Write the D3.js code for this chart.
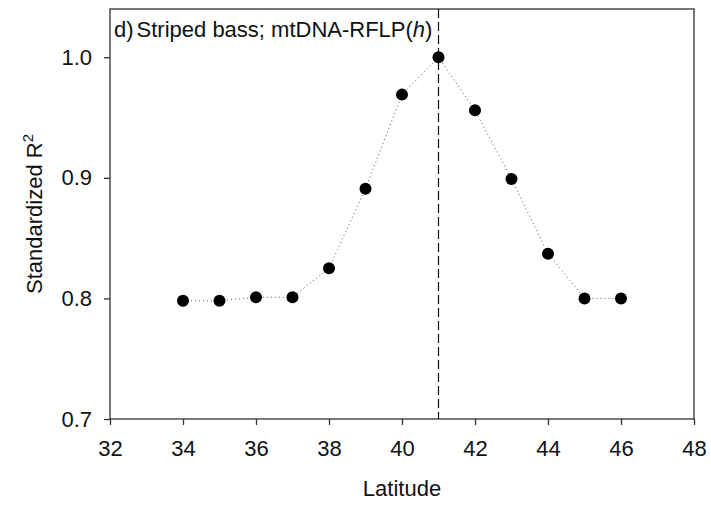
<!DOCTYPE html>
<html>
<head>
<meta charset="utf-8">
<script src="https://cdn.jsdelivr.net/npm/d3@7"></script>
<style>
  body { margin: 0; background: #fff; }
  text { font-family: "Liberation Sans", Arial, sans-serif; fill: #111; }
</style>
</head>
<body>
<div id="chart"></div>
<script>
// data
var latitude = [34, 35, 36, 37, 38, 39, 40, 41, 42, 43, 44, 45, 46];
var r2 = [0.798, 0.798, 0.801, 0.801, 0.825, 0.891, 0.969, 1.0, 0.956, 0.899, 0.837, 0.800, 0.800];
var xTicks = [32, 34, 36, 38, 40, 42, 44, 46, 48];
var yTicks = [0.7, 0.8, 0.9, 1.0];
var peakLat = 41;

var margin = {top: 9, right: 17, bottom: 86, left: 110};
var width = 711 - margin.left - margin.right;
var height = 505 - margin.top - margin.bottom;
var fontSize = '22px';

var svg = d3.select('#chart')
  .append('svg')
    .attr('width', 711)
    .attr('height', 505);

var chart = svg.append('g')
  .attr('transform', 'translate(' + margin.left + ',' + margin.top + ')');

var x = d3.scaleLinear().domain([32, 48]).range([0, width]);
var y = d3.scaleLinear().domain([0.7, 1.04]).range([height, 0]);

// frame
chart.append('rect')
  .attr('width', width)
  .attr('height', height)
  .attr('fill', 'none')
  .attr('stroke', '#333')
  .attr('stroke-width', 1.3);

// axes
var xAxis = chart.append('g')
  .attr('transform', 'translate(0,' + height + ')')
  .call(d3.axisBottom(x).tickValues(xTicks).tickSize(6).tickPadding(15).tickFormat(d3.format('d')));

var yAxis = chart.append('g')
  .call(d3.axisLeft(y).tickValues(yTicks).tickSize(6).tickPadding(12).tickFormat(d3.format('.1f')));

[xAxis, yAxis].forEach(function(a) {
  a.select('.domain').remove();
  a.selectAll('line').attr('stroke', '#333').attr('stroke-width', 1.3);
  a.selectAll('text').style('font-size', fontSize).style('font-family', '"Liberation Sans", Arial, sans-serif').attr('fill', '#111');
});

// dashed line at peak
chart.append('line')
  .attr('x1', x(peakLat)).attr('x2', x(peakLat))
  .attr('y1', 0).attr('y2', height)
  .attr('stroke', '#111')
  .attr('stroke-width', 1.2)
  .attr('stroke-dasharray', '9,4');

// dotted connecting line
var line = d3.line()
  .x(function(d, i) { return x(latitude[i]); })
  .y(function(d) { return y(d); });

chart.append('path')
  .datum(r2)
  .attr('d', line)
  .attr('fill', 'none')
  .attr('stroke', '#555')
  .attr('stroke-width', 1)
  .attr('stroke-dasharray', '1,3');

chart.selectAll('circle')
  .data(r2)
  .enter().append('circle')
    .attr('cx', function(d, i) { return x(latitude[i]); })
    .attr('cy', function(d) { return y(d); })
    .attr('r', 6)
    .attr('fill', '#000');

// panel label
var label = chart.append('text')
  .attr('x', 4)
  .attr('y', 28)
  .style('font-size', fontSize);
label.append('tspan').text('d)');
label.append('tspan').attr('dx', 3).text('Striped bass; mtDNA-RFLP(');
label.append('tspan').style('font-style', 'italic').text('h');
label.append('tspan').text(')');

// axis titles
svg.append('text')
  .attr('x', margin.left + width / 2)
  .attr('y', 496)
  .style('text-anchor', 'middle')
  .style('font-size', fontSize)
  .text('Latitude');

var yt = svg.append('text')
  .attr('transform', 'translate(42,' + (margin.top + height / 2) + ')rotate(-90)')
  .style('text-anchor', 'middle')
  .style('font-size', fontSize);
yt.append('tspan').text('Standardized R');
yt.append('tspan').attr('dy', -9).style('font-size', '15px').text('2');
</script>
</body>
</html>
